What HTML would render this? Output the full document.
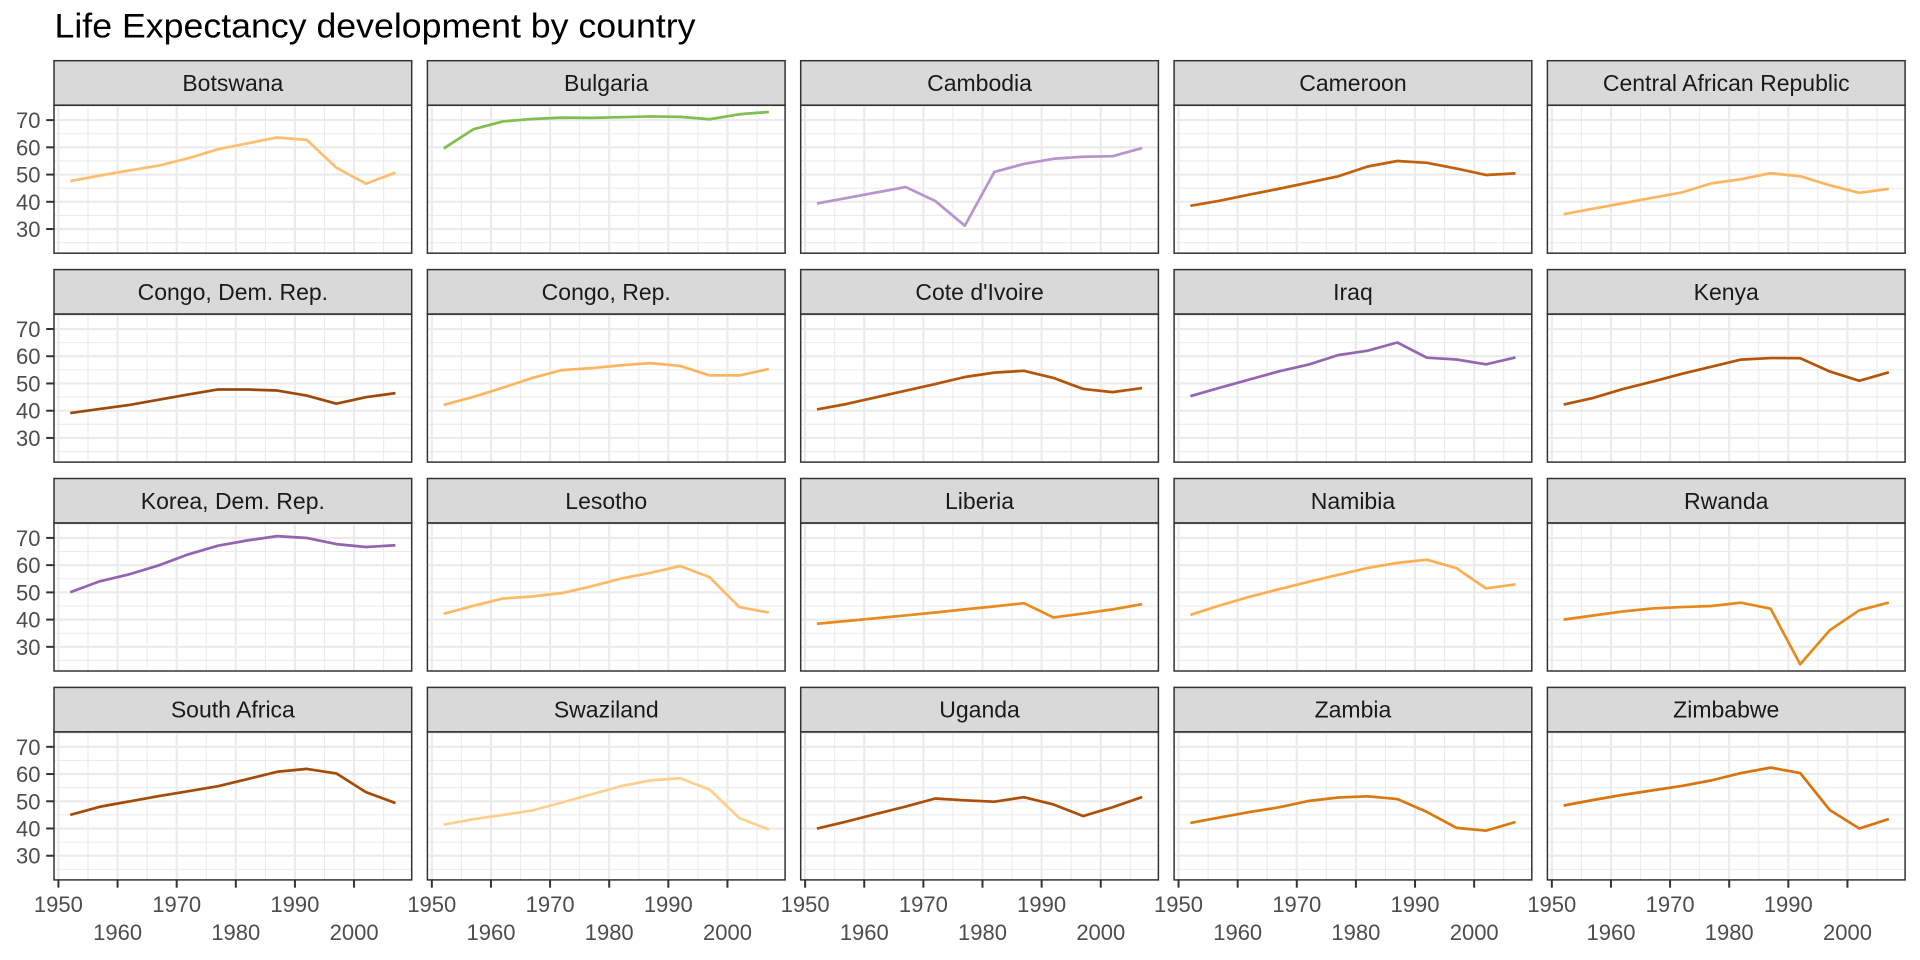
<!DOCTYPE html>
<html>
<head>
<meta charset="utf-8">
<style>
  html, body { margin: 0; padding: 0; background: #ffffff; }
  svg { display: block; }
  text { font-family: "Liberation Sans", Arial, sans-serif; }
  .strip { font-size: 23px; fill: #1a1a1a; text-anchor: middle; }
  .ylab { font-size: 22px; fill: #4d4d4d; text-anchor: end; }
  .xlab { font-size: 22px; fill: #4d4d4d; text-anchor: middle; }
  .ser { fill: none; stroke-width: 2.7; stroke-linejoin: round; stroke-linecap: butt; }
</style>
</head>
<body>
<svg width="1920" height="960" viewBox="0 0 1920 960" xmlns="http://www.w3.org/2000/svg">
  <defs>
    <g id="grid">
      <rect x="0" y="0" width="357.7" height="148" fill="#ffffff"/>
      <g stroke="#ebebeb" stroke-width="1.07">
        <line x1="34.00" y1="0" x2="34.00" y2="148"/>
        <line x1="93.12" y1="0" x2="93.12" y2="148"/>
        <line x1="152.24" y1="0" x2="152.24" y2="148"/>
        <line x1="211.37" y1="0" x2="211.37" y2="148"/>
        <line x1="270.49" y1="0" x2="270.49" y2="148"/>
        <line x1="329.62" y1="0" x2="329.62" y2="148"/>
        <line x1="0" y1="137.46" x2="357.7" y2="137.46"/>
        <line x1="0" y1="110.23" x2="357.7" y2="110.23"/>
        <line x1="0" y1="82.99" x2="357.7" y2="82.99"/>
        <line x1="0" y1="55.76" x2="357.7" y2="55.76"/>
        <line x1="0" y1="28.53" x2="357.7" y2="28.53"/>
        <line x1="0" y1="1.30" x2="357.7" y2="1.30"/>
      </g>
      <g stroke="#ebebeb" stroke-width="2.14">
        <line x1="4.43" y1="0" x2="4.43" y2="148"/>
        <line x1="63.56" y1="0" x2="63.56" y2="148"/>
        <line x1="122.68" y1="0" x2="122.68" y2="148"/>
        <line x1="181.81" y1="0" x2="181.81" y2="148"/>
        <line x1="240.93" y1="0" x2="240.93" y2="148"/>
        <line x1="300.05" y1="0" x2="300.05" y2="148"/>
        <line x1="0" y1="123.84" x2="357.7" y2="123.84"/>
        <line x1="0" y1="96.61" x2="357.7" y2="96.61"/>
        <line x1="0" y1="69.38" x2="357.7" y2="69.38"/>
        <line x1="0" y1="42.14" x2="357.7" y2="42.14"/>
        <line x1="0" y1="14.91" x2="357.7" y2="14.91"/>
      </g>
    </g>
    <g id="frame">
      <rect x="0" y="-44.5" width="357.7" height="44.5" fill="#d9d9d9" stroke="#333333" stroke-width="1.5"/>
      <rect x="0" y="0" width="357.7" height="148" fill="none" stroke="#333333" stroke-width="1.5"/>
    </g>
    <g id="yticks" stroke="#333333" stroke-width="2">
      <line x1="-7.8" y1="123.84" x2="0" y2="123.84"/>
      <line x1="-7.8" y1="96.61" x2="0" y2="96.61"/>
      <line x1="-7.8" y1="69.38" x2="0" y2="69.38"/>
      <line x1="-7.8" y1="42.14" x2="0" y2="42.14"/>
      <line x1="-7.8" y1="14.91" x2="0" y2="14.91"/>
    </g>
    <g id="xticks" stroke="#333333" stroke-width="2">
      <line x1="4.43" y1="148" x2="4.43" y2="155.8"/>
      <line x1="63.56" y1="148" x2="63.56" y2="155.8"/>
      <line x1="122.68" y1="148" x2="122.68" y2="155.8"/>
      <line x1="181.81" y1="148" x2="181.81" y2="155.8"/>
      <line x1="240.93" y1="148" x2="240.93" y2="155.8"/>
      <line x1="300.05" y1="148" x2="300.05" y2="155.8"/>
    </g>
  </defs>

  <!-- Title -->
  <text x="54.5" y="37.7" font-size="34" fill="#000000" textLength="641" lengthAdjust="spacingAndGlyphs">Life Expectancy development by country</text>

  <!-- Row 1 -->
  <g transform="translate(54.0,105.2)">
    <use href="#grid"/>
    <polyline class="ser" stroke="#fdbf6f" vector-effect="non-scaling-stroke" transform="translate(0,148) scale(5.9124,-2.7233) translate(-1949.25,-21.129)" points="1952,47.622 1957,49.618 1962,51.52 1967,53.298 1972,56.024 1977,59.319 1982,61.484 1987,63.622 1992,62.745 1997,52.556 2002,46.634 2007,50.728"/>
    <use href="#frame"/>
    <use href="#yticks"/>
    <text class="strip" x="178.85" y="-14.2">Botswana</text>
  </g>
  <g transform="translate(427.4,105.2)">
    <use href="#grid"/>
    <polyline class="ser" stroke="#7fbf4f" vector-effect="non-scaling-stroke" transform="translate(0,148) scale(5.9124,-2.7233) translate(-1949.25,-21.129)" points="1952,59.6 1957,66.61 1962,69.51 1967,70.42 1972,70.9 1977,70.81 1982,71.08 1987,71.34 1992,71.19 1997,70.32 2002,72.14 2007,73.005"/>
    <use href="#frame"/>
    <text class="strip" x="178.85" y="-14.2">Bulgaria</text>
  </g>
  <g transform="translate(800.7,105.2)">
    <use href="#grid"/>
    <polyline class="ser" stroke="#b894cc" vector-effect="non-scaling-stroke" transform="translate(0,148) scale(5.9124,-2.7233) translate(-1949.25,-21.129)" points="1952,39.417 1957,41.366 1962,43.415 1967,45.415 1972,40.317 1977,31.22 1982,50.957 1987,53.914 1992,55.803 1997,56.534 2002,56.752 2007,59.723"/>
    <use href="#frame"/>
    <text class="strip" x="178.85" y="-14.2">Cambodia</text>
  </g>
  <g transform="translate(1174.1,105.2)">
    <use href="#grid"/>
    <polyline class="ser" stroke="#c2600c" vector-effect="non-scaling-stroke" transform="translate(0,148) scale(5.9124,-2.7233) translate(-1949.25,-21.129)" points="1952,38.523 1957,40.428 1962,42.643 1967,44.799 1972,47.049 1977,49.355 1982,52.961 1987,54.985 1992,54.314 1997,52.199 2002,49.856 2007,50.43"/>
    <use href="#frame"/>
    <text class="strip" x="178.85" y="-14.2">Cameroon</text>
  </g>
  <g transform="translate(1547.4,105.2)">
    <use href="#grid"/>
    <polyline class="ser" stroke="#fdb560" vector-effect="non-scaling-stroke" transform="translate(0,148) scale(5.9124,-2.7233) translate(-1949.25,-21.129)" points="1952,35.463 1957,37.464 1962,39.475 1967,41.478 1972,43.457 1977,46.775 1982,48.295 1987,50.485 1992,49.396 1997,46.066 2002,43.308 2007,44.741"/>
    <use href="#frame"/>
    <text class="strip" x="178.85" y="-14.2">Central African Republic</text>
  </g>

  <!-- Row 2 -->
  <g transform="translate(54.0,314.1)">
    <use href="#grid"/>
    <polyline class="ser" stroke="#9c4a0b" vector-effect="non-scaling-stroke" transform="translate(0,148) scale(5.9124,-2.7233) translate(-1949.25,-21.129)" points="1952,39.143 1957,40.652 1962,42.122 1967,44.056 1972,45.989 1977,47.804 1982,47.784 1987,47.412 1992,45.548 1997,42.587 2002,44.966 2007,46.462"/>
    <use href="#frame"/>
    <use href="#yticks"/>
    <text class="strip" x="178.85" y="-14.2">Congo, Dem. Rep.</text>
  </g>
  <g transform="translate(427.4,314.1)">
    <use href="#grid"/>
    <polyline class="ser" stroke="#fdb55f" vector-effect="non-scaling-stroke" transform="translate(0,148) scale(5.9124,-2.7233) translate(-1949.25,-21.129)" points="1952,42.111 1957,45.053 1962,48.435 1967,52.04 1972,54.907 1977,55.625 1982,56.695 1987,57.47 1992,56.433 1997,52.962 2002,52.97 2007,55.322"/>
    <use href="#frame"/>
    <text class="strip" x="178.85" y="-14.2">Congo, Rep.</text>
  </g>
  <g transform="translate(800.7,314.1)">
    <use href="#grid"/>
    <polyline class="ser" stroke="#b55508" vector-effect="non-scaling-stroke" transform="translate(0,148) scale(5.9124,-2.7233) translate(-1949.25,-21.129)" points="1952,40.477 1957,42.469 1962,44.93 1967,47.35 1972,49.801 1977,52.374 1982,53.983 1987,54.655 1992,52.044 1997,47.991 2002,46.832 2007,48.328"/>
    <use href="#frame"/>
    <text class="strip" x="178.85" y="-14.2">Cote d'Ivoire</text>
  </g>
  <g transform="translate(1174.1,314.1)">
    <use href="#grid"/>
    <polyline class="ser" stroke="#9467b0" vector-effect="non-scaling-stroke" transform="translate(0,148) scale(5.9124,-2.7233) translate(-1949.25,-21.129)" points="1952,45.32 1957,48.437 1962,51.457 1967,54.459 1972,56.95 1977,60.413 1982,62.038 1987,65.044 1992,59.461 1997,58.811 2002,57.046 2007,59.545"/>
    <use href="#frame"/>
    <text class="strip" x="178.85" y="-14.2">Iraq</text>
  </g>
  <g transform="translate(1547.4,314.1)">
    <use href="#grid"/>
    <polyline class="ser" stroke="#b35406" vector-effect="non-scaling-stroke" transform="translate(0,148) scale(5.9124,-2.7233) translate(-1949.25,-21.129)" points="1952,42.27 1957,44.686 1962,47.949 1967,50.654 1972,53.559 1977,56.155 1982,58.766 1987,59.339 1992,59.285 1997,54.407 2002,50.992 2007,54.11"/>
    <use href="#frame"/>
    <text class="strip" x="178.85" y="-14.2">Kenya</text>
  </g>

  <!-- Row 3 -->
  <g transform="translate(54.0,523.0)">
    <use href="#grid"/>
    <polyline class="ser" stroke="#9264b1" vector-effect="non-scaling-stroke" transform="translate(0,148) scale(5.9124,-2.7233) translate(-1949.25,-21.129)" points="1952,50.056 1957,54.081 1962,56.656 1967,59.942 1972,63.983 1977,67.159 1982,69.1 1987,70.647 1992,69.978 1997,67.727 2002,66.662 2007,67.297"/>
    <use href="#frame"/>
    <use href="#yticks"/>
    <text class="strip" x="178.85" y="-14.2">Korea, Dem. Rep.</text>
  </g>
  <g transform="translate(427.4,523.0)">
    <use href="#grid"/>
    <polyline class="ser" stroke="#fdbb68" vector-effect="non-scaling-stroke" transform="translate(0,148) scale(5.9124,-2.7233) translate(-1949.25,-21.129)" points="1952,42.138 1957,45.047 1962,47.747 1967,48.492 1972,49.767 1977,52.208 1982,55.078 1987,57.18 1992,59.685 1997,55.558 2002,44.593 2007,42.592"/>
    <use href="#frame"/>
    <text class="strip" x="178.85" y="-14.2">Lesotho</text>
  </g>
  <g transform="translate(800.7,523.0)">
    <use href="#grid"/>
    <polyline class="ser" stroke="#e88c1e" vector-effect="non-scaling-stroke" transform="translate(0,148) scale(5.9124,-2.7233) translate(-1949.25,-21.129)" points="1952,38.48 1957,39.486 1962,40.502 1967,41.536 1972,42.614 1977,43.764 1982,44.852 1987,46.027 1992,40.802 1997,42.221 2002,43.753 2007,45.678"/>
    <use href="#frame"/>
    <text class="strip" x="178.85" y="-14.2">Liberia</text>
  </g>
  <g transform="translate(1174.1,523.0)">
    <use href="#grid"/>
    <polyline class="ser" stroke="#fcae52" vector-effect="non-scaling-stroke" transform="translate(0,148) scale(5.9124,-2.7233) translate(-1949.25,-21.129)" points="1952,41.725 1957,45.226 1962,48.386 1967,51.159 1972,53.867 1977,56.437 1982,58.968 1987,60.835 1992,61.999 1997,58.909 2002,51.479 2007,52.906"/>
    <use href="#frame"/>
    <text class="strip" x="178.85" y="-14.2">Namibia</text>
  </g>
  <g transform="translate(1547.4,523.0)">
    <use href="#grid"/>
    <polyline class="ser" stroke="#e6891b" vector-effect="non-scaling-stroke" transform="translate(0,148) scale(5.9124,-2.7233) translate(-1949.25,-21.129)" points="1952,40 1957,41.5 1962,43 1967,44.1 1972,44.6 1977,45 1982,46.218 1987,44.02 1992,23.599 1997,36.087 2002,43.413 2007,46.242"/>
    <use href="#frame"/>
    <text class="strip" x="178.85" y="-14.2">Rwanda</text>
  </g>

  <!-- Row 4 -->
  <g transform="translate(54.0,731.9)">
    <use href="#grid"/>
    <polyline class="ser" stroke="#a34b07" vector-effect="non-scaling-stroke" transform="translate(0,148) scale(5.9124,-2.7233) translate(-1949.25,-21.129)" points="1952,45.009 1957,47.985 1962,49.951 1967,51.927 1972,53.696 1977,55.527 1982,58.161 1987,60.834 1992,61.888 1997,60.236 2002,53.365 2007,49.339"/>
    <use href="#frame"/>
    <use href="#yticks"/>
    <use href="#xticks"/>
    <text class="strip" x="178.85" y="-14.2">South Africa</text>
  </g>
  <g transform="translate(427.4,731.9)">
    <use href="#grid"/>
    <polyline class="ser" stroke="#fecf8e" vector-effect="non-scaling-stroke" transform="translate(0,148) scale(5.9124,-2.7233) translate(-1949.25,-21.129)" points="1952,41.407 1957,43.424 1962,44.992 1967,46.633 1972,49.552 1977,52.537 1982,55.561 1987,57.678 1992,58.474 1997,54.289 2002,43.869 2007,39.613"/>
    <use href="#frame"/>
    <use href="#xticks"/>
    <text class="strip" x="178.85" y="-14.2">Swaziland</text>
  </g>
  <g transform="translate(800.7,731.9)">
    <use href="#grid"/>
    <polyline class="ser" stroke="#ab4f09" vector-effect="non-scaling-stroke" transform="translate(0,148) scale(5.9124,-2.7233) translate(-1949.25,-21.129)" points="1952,39.978 1957,42.571 1962,45.344 1967,48.051 1972,51.016 1977,50.35 1982,49.849 1987,51.509 1992,48.825 1997,44.578 2002,47.813 2007,51.542"/>
    <use href="#frame"/>
    <use href="#xticks"/>
    <text class="strip" x="178.85" y="-14.2">Uganda</text>
  </g>
  <g transform="translate(1174.1,731.9)">
    <use href="#grid"/>
    <polyline class="ser" stroke="#db7911" vector-effect="non-scaling-stroke" transform="translate(0,148) scale(5.9124,-2.7233) translate(-1949.25,-21.129)" points="1952,42.038 1957,44.077 1962,46.023 1967,47.768 1972,50.107 1977,51.386 1982,51.821 1987,50.821 1992,46.1 1997,40.238 2002,39.193 2007,42.384"/>
    <use href="#frame"/>
    <use href="#xticks"/>
    <text class="strip" x="178.85" y="-14.2">Zambia</text>
  </g>
  <g transform="translate(1547.4,731.9)">
    <use href="#grid"/>
    <polyline class="ser" stroke="#d7740e" vector-effect="non-scaling-stroke" transform="translate(0,148) scale(5.9124,-2.7233) translate(-1949.25,-21.129)" points="1952,48.451 1957,50.469 1962,52.358 1967,53.995 1972,55.635 1977,57.674 1982,60.363 1987,62.351 1992,60.377 1997,46.809 2002,39.989 2007,43.487"/>
    <use href="#frame"/>
    <use href="#xticks"/>
    <text class="strip" x="178.85" y="-14.2">Zimbabwe</text>
  </g>

  <!-- Y axis labels (column 1, each row) -->
  <g>
    <text class="ylab" x="40.5" y="128.1">70</text>
    <text class="ylab" x="40.5" y="155.3">60</text>
    <text class="ylab" x="40.5" y="182.6">50</text>
    <text class="ylab" x="40.5" y="209.8">40</text>
    <text class="ylab" x="40.5" y="237.0">30</text>

    <text class="ylab" x="40.5" y="337.0">70</text>
    <text class="ylab" x="40.5" y="364.2">60</text>
    <text class="ylab" x="40.5" y="391.5">50</text>
    <text class="ylab" x="40.5" y="418.7">40</text>
    <text class="ylab" x="40.5" y="445.9">30</text>

    <text class="ylab" x="40.5" y="545.9">70</text>
    <text class="ylab" x="40.5" y="573.1">60</text>
    <text class="ylab" x="40.5" y="600.4">50</text>
    <text class="ylab" x="40.5" y="627.6">40</text>
    <text class="ylab" x="40.5" y="654.8">30</text>

    <text class="ylab" x="40.5" y="754.8">70</text>
    <text class="ylab" x="40.5" y="782.0">60</text>
    <text class="ylab" x="40.5" y="809.3">50</text>
    <text class="ylab" x="40.5" y="836.5">40</text>
    <text class="ylab" x="40.5" y="863.7">30</text>
  </g>

  <!-- X axis labels (bottom row, dodged) -->
  <g>
    <text class="xlab" x="58.4" y="912">1950</text>
    <text class="xlab" x="117.6" y="940">1960</text>
    <text class="xlab" x="176.7" y="912">1970</text>
    <text class="xlab" x="235.8" y="940">1980</text>
    <text class="xlab" x="294.9" y="912">1990</text>
    <text class="xlab" x="354.1" y="940">2000</text>

    <text class="xlab" x="431.8" y="912">1950</text>
    <text class="xlab" x="491.0" y="940">1960</text>
    <text class="xlab" x="550.1" y="912">1970</text>
    <text class="xlab" x="609.2" y="940">1980</text>
    <text class="xlab" x="668.3" y="912">1990</text>
    <text class="xlab" x="727.5" y="940">2000</text>

    <text class="xlab" x="805.1" y="912">1950</text>
    <text class="xlab" x="864.3" y="940">1960</text>
    <text class="xlab" x="923.4" y="912">1970</text>
    <text class="xlab" x="982.5" y="940">1980</text>
    <text class="xlab" x="1041.6" y="912">1990</text>
    <text class="xlab" x="1100.8" y="940">2000</text>

    <text class="xlab" x="1178.5" y="912">1950</text>
    <text class="xlab" x="1237.7" y="940">1960</text>
    <text class="xlab" x="1296.8" y="912">1970</text>
    <text class="xlab" x="1355.9" y="940">1980</text>
    <text class="xlab" x="1415.0" y="912">1990</text>
    <text class="xlab" x="1474.2" y="940">2000</text>

    <text class="xlab" x="1551.8" y="912">1950</text>
    <text class="xlab" x="1611.0" y="940">1960</text>
    <text class="xlab" x="1670.1" y="912">1970</text>
    <text class="xlab" x="1729.2" y="940">1980</text>
    <text class="xlab" x="1788.3" y="912">1990</text>
    <text class="xlab" x="1847.5" y="940">2000</text>
  </g>
</svg>
</body>
</html>
